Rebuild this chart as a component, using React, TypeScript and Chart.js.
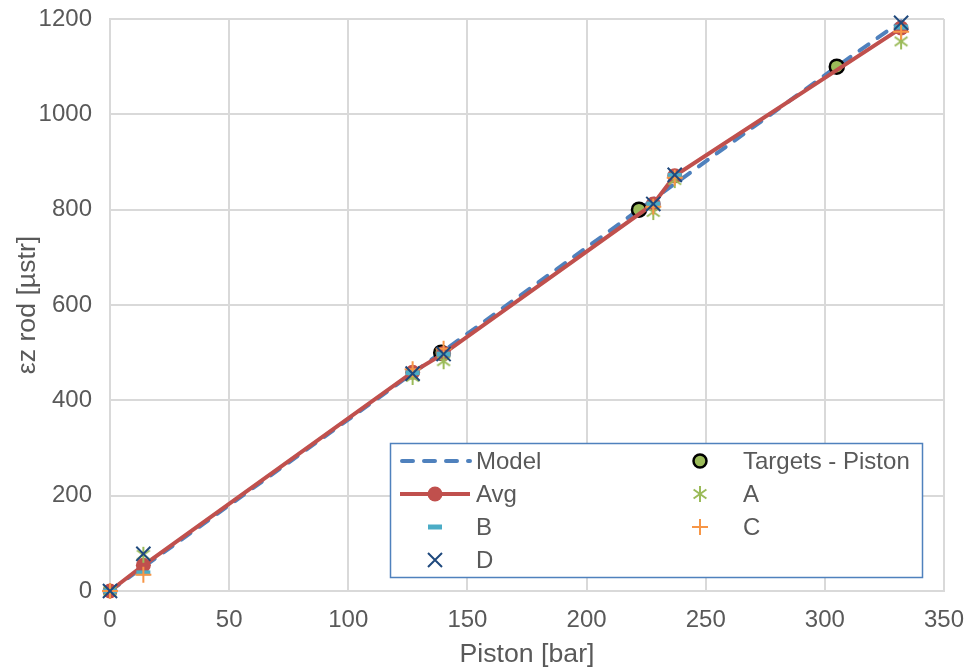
import React, { useEffect, useRef } from 'react';
import { Chart, registerables } from 'chart.js';

Chart.register(...registerables);

// ---- data ----
const modelX = [0, 139, 222, 305, 332];
const modelY = [0, 500, 800, 1100, 1195];
const targetX = [139, 222, 305];
const targetY = [500, 800, 1100];
const pistonX = [0, 14, 127, 140, 228, 237, 332];
const avgY = [0, 54, 459, 498, 812, 871, 1181];
const aY = [0, 76, 449, 482, 795, 862, 1153];
const bY = [0, 38, 458, 497, 812, 872, 1183];
const cY = [0, 34, 465, 508, 806, 867, 1173];
const dY = [0, 78, 456, 497, 812, 873, 1192];
const xTitle = 'Piston [bar]';
const yTitle = 'εz rod [µstr]';
const legendNames = ['Model', 'Avg', 'B', 'D', 'Targets - Piston', 'A', 'C'];

const FONT = '"Liberation Sans", Arial, sans-serif';
const TEXT = '#595959';
const C_MODEL = '#4f81bd';
const C_AVG = '#c0504d';
const C_TGT = '#9bbb59';
const C_A = '#9bbb59';
const C_B = '#4bacc6';
const C_C = '#f79646';
const C_D = '#1f497d';

const pts = (xs: number[], ys: number[]) => xs.map((x, i) => ({ x, y: ys[i] }));

function drawAsterisk(ctx: CanvasRenderingContext2D, cx: number, cy: number, r: number) {
  ctx.save();
  ctx.strokeStyle = C_A;
  ctx.lineWidth = 2;
  ctx.beginPath();
  ctx.moveTo(cx, cy - r);
  ctx.lineTo(cx, cy + r);
  const d = r * 0.8;
  ctx.moveTo(cx - d, cy - d * 0.7);
  ctx.lineTo(cx + d, cy + d * 0.7);
  ctx.moveTo(cx - d, cy + d * 0.7);
  ctx.lineTo(cx + d, cy - d * 0.7);
  ctx.stroke();
  ctx.restore();
}

function makeAsteriskCanvas() {
  const c = document.createElement('canvas');
  c.width = 20;
  c.height = 20;
  const ctx = c.getContext('2d')!;
  drawAsterisk(ctx, 10, 10, 8);
  return c;
}

const legendPlugin = {
  id: 'customLegend',
  afterDraw(chart: any) {
    const ctx: CanvasRenderingContext2D = chart.ctx;
    const left = 390, top = 443, w = 532, h = 134;
    ctx.save();
    ctx.fillStyle = '#ffffff';
    ctx.fillRect(left, top, w, h);
    ctx.strokeStyle = C_MODEL;
    ctx.lineWidth = 1.5;
    ctx.strokeRect(left + 0.5, top + 0.5, w, h);

    const rows = [461, 494, 527, 560];
    const c1 = 435, c2 = 700;
    // Model
    ctx.strokeStyle = C_MODEL;
    ctx.lineWidth = 4;
    ctx.lineCap = 'round';
    ctx.setLineDash([11, 11]);
    ctx.beginPath();
    ctx.moveTo(402, rows[0]);
    ctx.lineTo(470, rows[0]);
    ctx.stroke();
    ctx.setLineDash([]);
    // Avg
    ctx.strokeStyle = C_AVG;
    ctx.lineCap = 'butt';
    ctx.beginPath();
    ctx.moveTo(400, rows[1]);
    ctx.lineTo(470, rows[1]);
    ctx.stroke();
    ctx.fillStyle = C_AVG;
    ctx.beginPath();
    ctx.arc(c1, rows[1], 7.5, 0, Math.PI * 2);
    ctx.fill();
    // B
    ctx.strokeStyle = C_B;
    ctx.lineWidth = 5;
    ctx.beginPath();
    ctx.moveTo(c1 - 7, rows[2]);
    ctx.lineTo(c1 + 7, rows[2]);
    ctx.stroke();
    // D
    ctx.strokeStyle = C_D;
    ctx.lineWidth = 2;
    ctx.beginPath();
    ctx.moveTo(c1 - 7, rows[3] - 7);
    ctx.lineTo(c1 + 7, rows[3] + 7);
    ctx.moveTo(c1 - 7, rows[3] + 7);
    ctx.lineTo(c1 + 7, rows[3] - 7);
    ctx.stroke();
    // Targets
    ctx.fillStyle = C_TGT;
    ctx.strokeStyle = '#000000';
    ctx.lineWidth = 2.5;
    ctx.beginPath();
    ctx.arc(c2, rows[0], 6.5, 0, Math.PI * 2);
    ctx.fill();
    ctx.stroke();
    // A
    drawAsterisk(ctx, c2, rows[1], 8);
    // C
    ctx.strokeStyle = C_C;
    ctx.lineWidth = 2;
    ctx.beginPath();
    ctx.moveTo(c2 - 8, rows[2]);
    ctx.lineTo(c2 + 8, rows[2]);
    ctx.moveTo(c2, rows[2] - 8);
    ctx.lineTo(c2, rows[2] + 8);
    ctx.stroke();

    ctx.fillStyle = TEXT;
    ctx.font = `24px ${FONT}`;
    ctx.textBaseline = 'middle';
    ctx.textAlign = 'left';
    ctx.fillText(legendNames[0], 476, rows[0] + 1);
    ctx.fillText(legendNames[1], 476, rows[1] + 1);
    ctx.fillText(legendNames[2], 476, rows[2] + 1);
    ctx.fillText(legendNames[3], 476, rows[3] + 1);
    ctx.fillText(legendNames[4], 743, rows[0] + 1);
    ctx.fillText(legendNames[5], 743, rows[1] + 1);
    ctx.fillText(legendNames[6], 743, rows[2] + 1);
    ctx.restore();
  },
};

export default function App() {
  const ref = useRef<HTMLCanvasElement | null>(null);

  useEffect(() => {
    document.body.style.margin = '0';
    if (!ref.current) return;
    const asterisk = makeAsteriskCanvas();
    const chart = new Chart(ref.current, {
      type: 'scatter',
      data: {
        datasets: [
          {
            label: 'Model',
            data: pts(modelX, modelY),
            showLine: true,
            borderColor: C_MODEL,
            borderWidth: 4,
            borderDash: [11, 11],
            borderCapStyle: 'round',
            pointRadius: 0,
            order: 7,
            clip: false,
          },
          {
            label: 'Targets - Piston',
            data: pts(targetX, targetY),
            pointStyle: 'circle',
            pointRadius: 7,
            pointBackgroundColor: C_TGT,
            pointBorderColor: '#000000',
            pointBorderWidth: 2.5,
            order: 6,
            clip: false,
          },
          {
            label: 'Avg',
            data: pts(pistonX, avgY),
            showLine: true,
            borderColor: C_AVG,
            borderWidth: 4,
            pointStyle: 'circle',
            pointRadius: 7.5,
            pointBackgroundColor: C_AVG,
            pointBorderColor: C_AVG,
            pointBorderWidth: 0,
            order: 5,
            clip: false,
          },
          {
            label: 'A',
            data: pts(pistonX, aY),
            pointStyle: asterisk as any,
            pointRadius: 8,
            order: 4,
            clip: false,
          },
          {
            label: 'B',
            data: pts(pistonX, bY),
            pointStyle: 'line',
            pointRadius: 7,
            pointBorderColor: C_B,
            pointBackgroundColor: C_B,
            pointBorderWidth: 5,
            order: 3,
            clip: false,
          },
          {
            label: 'C',
            data: pts(pistonX, cY),
            pointStyle: 'cross',
            pointRadius: 8,
            pointBorderColor: C_C,
            pointBackgroundColor: C_C,
            pointBorderWidth: 2,
            order: 2,
            clip: false,
          },
          {
            label: 'D',
            data: pts(pistonX, dY),
            pointStyle: 'crossRot',
            pointRadius: 10,
            pointBorderColor: C_D,
            pointBackgroundColor: C_D,
            pointBorderWidth: 2,
            order: 1,
            clip: false,
          },
        ],
      },
      options: {
        responsive: false,
        animation: false,
        layout: { padding: { top: 19, right: 23, left: 0, bottom: 0 } },
        plugins: {
          legend: { display: false },
          tooltip: { enabled: false },
        },
        scales: {
          x: {
            type: 'linear',
            min: 0,
            max: 350,
            ticks: {
              stepSize: 50,
              color: TEXT,
              font: { family: FONT, size: 24 },
              padding: 15,
              maxRotation: 0,
              callback: (v: any) => String(v),
            },
            grid: { color: '#d9d9d9', lineWidth: 2, drawTicks: false },
            border: { color: '#d9d9d9', width: 2 },
            title: {
              display: true,
              text: xTitle,
              color: TEXT,
              font: { family: FONT, size: 26.7 },
              padding: { top: 0, bottom: 1 },
            },
            afterFit: (s: any) => {
              s.height = 81;
              s.paddingLeft = 0;
              s.paddingRight = 0;
            },
          },
          y: {
            type: 'linear',
            min: 0,
            max: 1200,
            ticks: {
              stepSize: 200,
              color: TEXT,
              font: { family: FONT, size: 24 },
              padding: 18,
              callback: (v: any) => String(v),
            },
            grid: { color: '#d9d9d9', lineWidth: 2, drawTicks: false },
            border: { color: '#d9d9d9', width: 2 },
            title: {
              display: true,
              text: yTitle,
              color: TEXT,
              font: { family: FONT, size: 26.7 },
              padding: { top: 12, bottom: 0 },
            },
            afterFit: (s: any) => {
              s.width = 110;
              s.paddingTop = 0;
              s.paddingBottom = 0;
            },
          },
        },
      },
      plugins: [legendPlugin],
    } as any);
    return () => chart.destroy();
  }, []);

  return (
    <div style={{ position: 'absolute', left: 0, top: 0, width: 967, height: 672 }}>
      <canvas ref={ref} width={967} height={672} style={{ width: 967, height: 672 }} />
    </div>
  );
}
